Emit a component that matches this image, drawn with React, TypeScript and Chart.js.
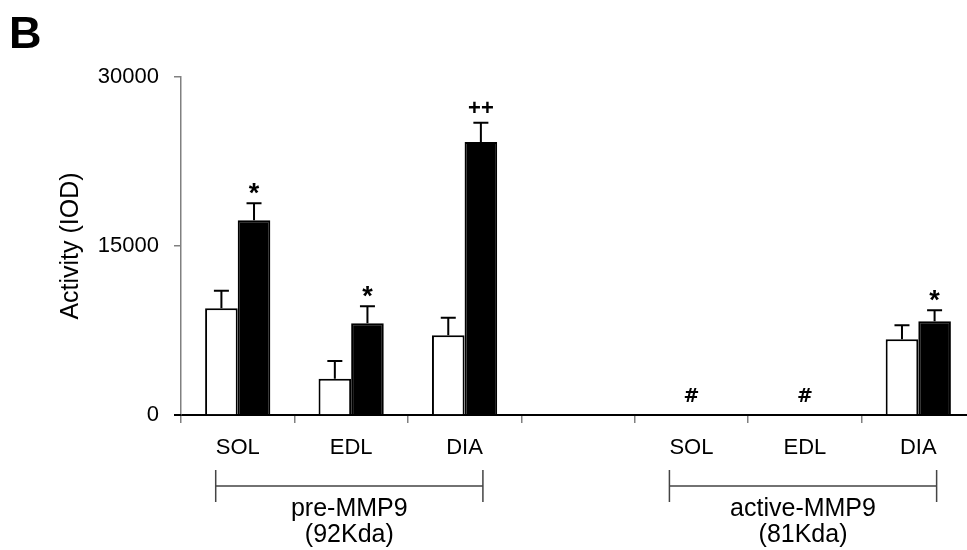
import React, { useEffect, useRef } from 'react';
import { Chart, registerables } from 'chart.js';

Chart.register(...registerables);

const categories = ['SOL', 'EDL', 'DIA', '', 'SOL', 'EDL', 'DIA'];
const controlValues = [9470, 3220, 7070, null, null, null, 6720];
const controlErrors = [1560, 1570, 1570, null, null, null, 1240];
const treatedValues = [17280, 8140, 24230, null, null, null, 8320];
const treatedErrors = [1510, 1510, 1710, null, null, null, 980];
const treatedMarks = ['*', '*', '++', '', '', '', '*'];
const zeroMarks = ['', '', '', '', '#', '#', ''];
const yTicks = [0, 15000, 30000];
const groupNames = ['pre-MMP9', 'active-MMP9'];
const groupUnits = ['(92Kda)', '(81Kda)'];
const groupStart = [0, 4];
const groupEnd = [2, 6];
const panelLetter = 'B';
const yTitle = 'Activity (IOD)';

const FONT = '"Liberation Sans", Arial, Helvetica, sans-serif';

const annotate = {
  id: 'annotate',
  afterDatasetsDraw(chart: any) {
    const ctx = chart.ctx;
    const y = chart.scales.y;
    const x = chart.scales.x;
    ctx.save();
    // extend the baseline to meet the y tick
    const y0px = y.getPixelForValue(0);
    ctx.strokeStyle = '#000';
    ctx.lineWidth = 2;
    ctx.beginPath();
    ctx.moveTo(chart.chartArea.left - 7, y0px);
    ctx.lineTo(chart.chartArea.left, y0px);
    ctx.stroke();
    const sets: any[] = [
      [controlValues, controlErrors],
      [treatedValues, treatedErrors],
    ];
    sets.forEach(([vals, errs]: any[], di: number) => {
      const meta = chart.getDatasetMeta(di);
      vals.forEach((v: number | null, i: number) => {
        if (v == null || !errs[i]) return;
        const bx = meta.data[i].x;
        const ya = y.getPixelForValue(v);
        const yb = y.getPixelForValue(v + errs[i]);
        ctx.strokeStyle = '#000';
        ctx.lineWidth = 2;
        ctx.beginPath();
        ctx.moveTo(bx, ya);
        ctx.lineTo(bx, yb);
        ctx.moveTo(bx - 7.5, yb);
        ctx.lineTo(bx + 7.5, yb);
        ctx.stroke();
      });
    });
    // significance marks
    const meta1 = chart.getDatasetMeta(1);
    ctx.fillStyle = '#000';
    ctx.textAlign = 'center';
    ctx.textBaseline = 'alphabetic';
    treatedMarks.forEach((m, i) => {
      if (!m) return;
      const v = treatedValues[i] as number;
      const e = treatedErrors[i] as number;
      const cy = y.getPixelForValue(v + e) - 15;
      const bx = meta1.data[i].x;
      if (m === '*') {
        ctx.font = 'bold 27px ' + FONT;
        ctx.fillText(m, bx, cy + 27 * 0.52);
      } else {
        ctx.font = 'bold 22px ' + FONT;
        ctx.fillText(m, bx, cy + 22 * 0.35);
      }
    });
    zeroMarks.forEach((m, i) => {
      if (!m) return;
      const cx = x.getPixelForValue(i);
      const cy = y0px - 20;
      ctx.font = 'bold 19px "DejaVu Sans", ' + FONT;
      ctx.fillText(m, cx, cy + 19 * 0.36);
    });
    ctx.restore();
  },
  afterDraw(chart: any) {
    const ctx = chart.ctx;
    const x = chart.scales.x;
    ctx.save();
    // panel letter
    ctx.fillStyle = '#000';
    ctx.font = 'bold 45px ' + FONT;
    ctx.textAlign = 'left';
    ctx.textBaseline = 'alphabetic';
    ctx.fillText(panelLetter, 9, 48);
    // group brackets
    groupNames.forEach((name, g) => {
      ctx.font = '22px ' + FONT;
      const s = groupStart[g];
      const e = groupEnd[g];
      const left = x.getPixelForValue(s) - ctx.measureText(categories[s]).width / 2;
      const right = x.getPixelForValue(e) + ctx.measureText(categories[e]).width / 2;
      ctx.strokeStyle = '#444';
      ctx.lineWidth = 1.5;
      ctx.beginPath();
      ctx.moveTo(left, 486);
      ctx.lineTo(right, 486);
      ctx.moveTo(left, 470);
      ctx.lineTo(left, 502);
      ctx.moveTo(right, 470);
      ctx.lineTo(right, 502);
      ctx.stroke();
      const cx = (left + right) / 2;
      ctx.fillStyle = '#000';
      ctx.font = '25px ' + FONT;
      ctx.textAlign = 'center';
      ctx.textBaseline = 'middle';
      ctx.fillText(name, cx, 509);
      ctx.fillText(groupUnits[g], cx, 535);
    });
    ctx.restore();
  },
};

export default function App() {
  const ref = useRef<HTMLCanvasElement | null>(null);
  useEffect(() => {
    if (!ref.current) return;
    Chart.defaults.font.family = FONT;
    Chart.defaults.color = '#000';
    const chart = new Chart(ref.current, {
      type: 'bar',
      data: {
        labels: categories,
        datasets: [
          {
            label: 'Control',
            data: controlValues as any,
            backgroundColor: '#ffffff',
            borderColor: '#000000',
            borderWidth: 2,
            categoryPercentage: 0.575,
            barPercentage: 1.0,
          },
          {
            label: 'Treated',
            data: treatedValues as any,
            backgroundColor: '#000000',
            borderColor: '#000000',
            borderWidth: 2,
            categoryPercentage: 0.575,
            barPercentage: 1.0,
          },
        ],
      },
      options: {
        responsive: false,
        animation: false,
        devicePixelRatio: 1,
        layout: { padding: { top: 77, right: 15, left: 0, bottom: 0 } },
        plugins: {
          legend: { display: false },
          tooltip: { enabled: false },
        },
        scales: {
          x: {
            type: 'category',
            offset: true,
            afterFit: (s: any) => {
              s.height = 135;
            },
            grid: {
              display: true,
              offset: true,
              drawOnChartArea: false,
              drawTicks: true,
              tickLength: 8,
              color: '#808080',
              lineWidth: 1.5,
            },
            border: { display: true, color: '#000', width: 2 },
            ticks: {
              autoSkip: false,
              maxRotation: 0,
              minRotation: 0,
              padding: 12,
              color: '#000',
              font: { size: 22, family: FONT },
            },
          },
          y: {
            min: 0,
            max: 30000,
            afterFit: (s: any) => {
              s.width = 181;
            },
            afterBuildTicks: (s: any) => {
              s.ticks = yTicks.map((v) => ({ value: v }));
            },
            grid: {
              display: true,
              drawOnChartArea: false,
              drawTicks: true,
              tickLength: 7,
              color: '#808080',
              lineWidth: 1.5,
            },
            border: { display: true, color: '#808080', width: 1.5 },
            ticks: {
              padding: 15,
              color: '#000',
              font: { size: 22, family: FONT },
              callback: (v: any) => String(v),
            },
            title: {
              display: true,
              text: yTitle,
              color: '#000',
              font: { size: 25, family: FONT },
              padding: { top: 56, bottom: 0 },
            },
          },
        },
      },
      plugins: [annotate],
    });
    return () => chart.destroy();
  }, []);
  return (
    <div
      style={{
        position: 'absolute',
        left: 0,
        top: 0,
        width: 967,
        height: 550,
        overflow: 'hidden',
        background: '#fff',
      }}
    >
      <canvas
        ref={ref}
        width={990}
        height={550}
        style={{ display: 'block', width: 990, height: 550 }}
      />
    </div>
  );
}
